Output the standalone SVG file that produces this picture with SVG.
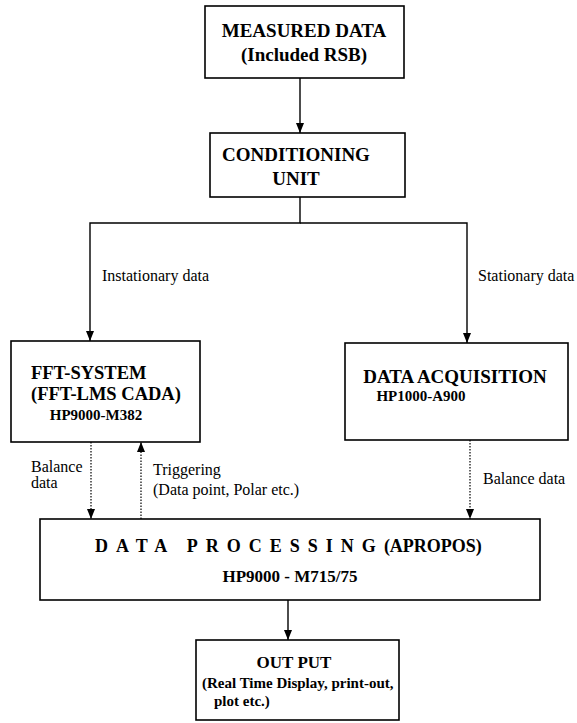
<svg xmlns="http://www.w3.org/2000/svg" width="577" height="723" viewBox="0 0 577 723">
<style>
.box{fill:#fff;stroke:#000;stroke-width:1.6}
.t{font-family:"Liberation Serif","Times New Roman",serif;font-weight:bold;fill:#000}
.l{font-family:"Liberation Serif","Times New Roman",serif;font-size:16px;fill:#000}
.c{stroke:#000;stroke-width:1.4;fill:none}
.d{stroke:#000;stroke-width:1.2;fill:none;stroke-dasharray:1.5 1.5}
</style>
<defs>
<marker id="ah" viewBox="0 0 10 10" refX="10" refY="5" markerWidth="10" markerHeight="10" markerUnits="userSpaceOnUse" orient="auto">
<path d="M0,1 L10,5 L0,9 Z" fill="#000"/>
</marker>
</defs>
<rect width="577" height="723" fill="#fff"/>
<g id="connectors">
<line class="c" x1="300" y1="78" x2="300" y2="133" marker-end="url(#ah)"/>
<polyline class="c" points="300,197 300,223 90,223 90,341" marker-end="url(#ah)"/>
<polyline class="c" points="300,223 467,223 467,343" marker-end="url(#ah)"/>
<line class="d" x1="91" y1="442" x2="91" y2="519" marker-end="url(#ah)"/>
<line class="d" x1="141" y1="519" x2="141" y2="442" marker-end="url(#ah)"/>
<line class="d" x1="470" y1="440" x2="470" y2="519" marker-end="url(#ah)"/>
<line class="c" x1="288" y1="600" x2="288" y2="640" marker-end="url(#ah)"/>
<text class="l" x="102" y="281">Instationary data</text>
<text class="l" x="478" y="281">Stationary data</text>
<text class="l" x="31" y="472">Balance</text>
<text class="l" x="31" y="488">data</text>
<text class="l" x="153" y="475">Triggering</text>
<text class="l" x="153" y="495">(Data point, Polar etc.)</text>
<text class="l" x="483" y="484">Balance data</text>
</g>
<g id="measured">
<rect class="box" x="205" y="6" width="199" height="72"/>
<text class="t" font-size="19" x="304" y="37" text-anchor="middle">MEASURED DATA</text>
<text class="t" font-size="19" x="304" y="61" text-anchor="middle">(Included RSB)</text>
</g>
<g id="conditioning">
<rect class="box" x="210" y="133" width="195" height="64"/>
<text class="t" font-size="19" x="296" y="161" text-anchor="middle">CONDITIONING</text>
<text class="t" font-size="19" x="296" y="185" text-anchor="middle">UNIT</text>
</g>
<g id="fft">
<rect class="box" x="11" y="341" width="189" height="101"/>
<text class="t" font-size="18.5" x="31" y="379">FFT-SYSTEM</text>
<text class="t" font-size="18.5" x="31" y="400">(FFT-LMS CADA)</text>
<text class="t" font-size="15" x="96" y="420" text-anchor="middle">HP9000-M382</text>
</g>
<g id="acquisition">
<rect class="box" x="345" y="343" width="223" height="97"/>
<text class="t" font-size="19" x="455" y="383" text-anchor="middle">DATA ACQUISITION</text>
<text class="t" font-size="15" x="421" y="401" text-anchor="middle">HP1000-A900</text>
</g>
<g id="processing">
<rect class="box" x="40" y="519" width="500" height="81"/>
<text class="t" font-size="18" x="95" y="552"><tspan letter-spacing="8">DATA PROCESSING</tspan><tspan>(APROPOS)</tspan></text>
<text class="t" font-size="17" x="290" y="582" text-anchor="middle">HP9000 - M715/75</text>
</g>
<g id="output">
<rect class="box" x="196" y="640" width="203" height="80"/>
<text class="t" font-size="17" x="294" y="668" text-anchor="middle">OUT  PUT</text>
<text class="t" font-size="15" x="202" y="688">(Real Time Display, print-out,</text>
<text class="t" font-size="15" x="214" y="706">plot etc.)</text>
</g>
</svg>
